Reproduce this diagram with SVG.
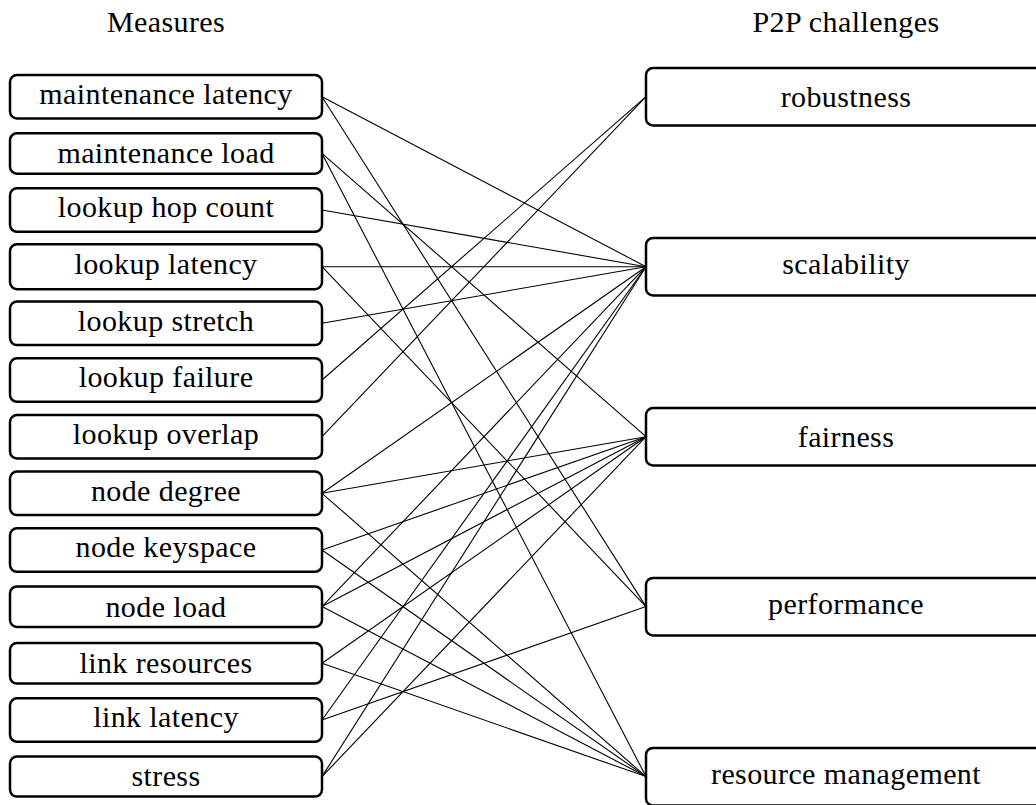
<svg xmlns="http://www.w3.org/2000/svg" width="1036" height="805" viewBox="0 0 1036 805">
  <style>
    .lbl { font-size: 30px; fill: #000; text-anchor: middle; letter-spacing: 0.4px; }
    .box { fill: #fff; stroke: #000; stroke-width: 2.5; }
    .edge { stroke: #000; stroke-width: 1.1; fill: none; }
  </style>
  <rect width="1036" height="805" fill="#fff"/>

  <!-- column headings -->
  <g font-family="'Liberation Serif', 'Times New Roman', 'DejaVu Serif', serif">
    <text class="lbl" x="166" y="32">Measures</text>
    <text class="lbl" x="846" y="32">P2P challenges</text>
  </g>

  <!-- connectors: measure (east side) to challenge (west side) -->
  <g id="connectors" class="edge">
    <line x1="322" y1="96.7" x2="646" y2="266.7"/>
    <line x1="322" y1="96.7" x2="646" y2="606.6"/>
    <line x1="322" y1="153.4" x2="646" y2="436.7"/>
    <line x1="322" y1="153.4" x2="646" y2="776.6"/>
    <line x1="322" y1="210.0" x2="646" y2="266.7"/>
    <line x1="322" y1="266.7" x2="646" y2="266.7"/>
    <line x1="322" y1="266.7" x2="646" y2="606.6"/>
    <line x1="322" y1="323.3" x2="646" y2="266.7"/>
    <line x1="322" y1="380.0" x2="646" y2="96.7"/>
    <line x1="322" y1="436.7" x2="646" y2="96.7"/>
    <line x1="322" y1="493.3" x2="646" y2="266.7"/>
    <line x1="322" y1="493.3" x2="646" y2="436.7"/>
    <line x1="322" y1="493.3" x2="646" y2="776.6"/>
    <line x1="322" y1="550.0" x2="646" y2="436.7"/>
    <line x1="322" y1="550.0" x2="646" y2="776.6"/>
    <line x1="322" y1="606.6" x2="646" y2="266.7"/>
    <line x1="322" y1="606.6" x2="646" y2="436.7"/>
    <line x1="322" y1="606.6" x2="646" y2="776.6"/>
    <line x1="322" y1="663.3" x2="646" y2="436.7"/>
    <line x1="322" y1="663.3" x2="646" y2="776.6"/>
    <line x1="322" y1="720.0" x2="646" y2="266.7"/>
    <line x1="322" y1="720.0" x2="646" y2="606.6"/>
    <line x1="322" y1="776.6" x2="646" y2="266.7"/>
    <line x1="322" y1="776.6" x2="646" y2="436.7"/>
  </g>

  <g font-family="'Liberation Serif', 'Times New Roman', 'DejaVu Serif', serif">
    <!-- measures -->
    <g id="m-maintenance-latency"><rect class="box" x="10" y="75" width="312" height="43.5" rx="7"/><text class="lbl" x="166" y="103.9">maintenance latency</text></g>
    <g id="m-maintenance-load"><rect class="box" x="10" y="133.2" width="312" height="40.5" rx="7"/><text class="lbl" x="166" y="163.4">maintenance load</text></g>
    <g id="m-lookup-hop-count"><rect class="box" x="10" y="188.3" width="312" height="43.5" rx="7"/><text class="lbl" x="166" y="217.2">lookup hop count</text></g>
    <g id="m-lookup-latency"><rect class="box" x="10" y="244.2" width="312" height="45" rx="7"/><text class="lbl" x="166" y="273.9">lookup latency</text></g>
    <g id="m-lookup-stretch"><rect class="box" x="10" y="301.6" width="312" height="43.5" rx="7"/><text class="lbl" x="166" y="330.5">lookup stretch</text></g>
    <g id="m-lookup-failure"><rect class="box" x="10" y="358.3" width="312" height="43.5" rx="7"/><text class="lbl" x="166" y="387.2">lookup failure</text></g>
    <g id="m-lookup-overlap"><rect class="box" x="10" y="415" width="312" height="43.5" rx="7"/><text class="lbl" x="166" y="443.9">lookup overlap</text></g>
    <g id="m-node-degree"><rect class="box" x="10" y="471.6" width="312" height="43.5" rx="7"/><text class="lbl" x="166" y="500.5">node degree</text></g>
    <g id="m-node-keyspace"><rect class="box" x="10" y="528.3" width="312" height="43.5" rx="7"/><text class="lbl" x="166" y="557.2">node keyspace</text></g>
    <g id="m-node-load"><rect class="box" x="10" y="586.4" width="312" height="40.5" rx="7"/><text class="lbl" x="166" y="616.6">node load</text></g>
    <g id="m-link-resources"><rect class="box" x="10" y="643.1" width="312" height="40.5" rx="7"/><text class="lbl" x="166" y="673.3">link resources</text></g>
    <g id="m-link-latency"><rect class="box" x="10" y="698.3" width="312" height="43.5" rx="7"/><text class="lbl" x="166" y="727.2">link latency</text></g>
    <g id="m-stress"><rect class="box" x="10" y="756.6" width="312" height="40" rx="7"/><text class="lbl" x="166" y="785.6">stress</text></g>

    <!-- challenges -->
    <g id="c-robustness"><rect class="box" x="646" y="68" width="400" height="57.5" rx="7"/><text class="lbl" x="846" y="106.7">robustness</text></g>
    <g id="c-scalability"><rect class="box" x="646" y="238" width="400" height="57.5" rx="7"/><text class="lbl" x="846" y="273.9">scalability</text></g>
    <g id="c-fairness"><rect class="box" x="646" y="408" width="400" height="57.5" rx="7"/><text class="lbl" x="846" y="446.7">fairness</text></g>
    <g id="c-performance"><rect class="box" x="646" y="577.9" width="400" height="57.5" rx="7"/><text class="lbl" x="846" y="613.8">performance</text></g>
    <g id="c-resource-management"><rect class="box" x="646" y="747.9" width="400" height="57.5" rx="7"/><text class="lbl" x="846" y="783.8">resource management</text></g>
  </g>
</svg>
